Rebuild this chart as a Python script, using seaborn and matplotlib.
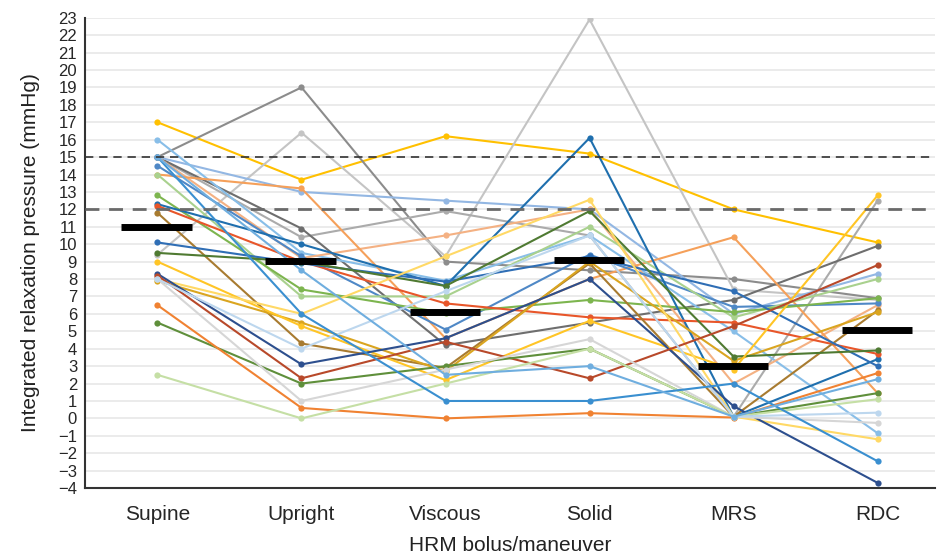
import matplotlib
matplotlib.use("Agg")
import numpy as np
import pandas as pd
import matplotlib.pyplot as plt
import seaborn as sns

maneuvers = ["Supine", "Upright", "Viscous", "Solid", "MRS", "RDC"]

# IRP (mmHg) per patient, one array per bolus/maneuver, same patient order
supine = [17.0, 15.0, 9.4, 15.0, 15.0, 15.0, 16.0, 15.0, 14.0, 14.5, 14.0, 12.8, 12.3, 12.2, 11.8,
          7.9, 10.1, 9.5, 9.0, 8.0, 8.3, 8.2, 5.5, 8.0, 6.5, 2.5, 8.0, 15.0, 15.0]
upright = [13.7, 19.0, 16.4, 10.4, 10.9, 13.0, 9.5, 9.2, 13.2, 9.3, 7.0, 7.4, 10.0, 9.0, 4.3,
           5.5, 8.9, 9.0, 5.3, 6.0, 3.1, 2.3, 2.0, 1.0, 0.6, 0.0, 4.0, 6.0, 8.5]
viscous = [16.2, 9.0, 9.3, 11.9, 4.2, 12.5, 7.9, 10.5, 4.6, 5.1, 7.0, 6.05, 7.6, 6.6, 2.9,
           2.7, 7.85, 7.6, 2.2, 9.3, 4.6, 4.4, 3.0, 2.8, 0.0, 2.0, 7.3, 1.0, 2.5]
solid = [15.2, 8.5, 22.9, 10.5, 5.5, 12.0, 10.5, 12.0, 8.0, 9.4, 11.0, 6.8, 16.1, 5.8, 8.9,
         9.0, 9.3, 11.9, 5.6, 12.55, 8.0, 2.3, 4.0, 4.55, 0.3, 4.0, 10.5, 1.0, 3.0]
mrs = [12.0, 8.0, 7.4, 0.1, 6.8, 6.0, 5.0, 2.0, 10.4, 6.4, 5.8, 6.1, 0.1, 5.5, 0.1,
       3.3, 7.3, 3.55, 2.8, 0.1, 0.7, 5.3, 0.1, 0.1, 0.05, 0.1, 0.1, 2.0, 0.1]
rdc = [10.1, 6.9, 6.8, 12.5, 9.9, 8.3, -0.85, 6.5, 1.45, 6.6, 8.0, 6.9, 3.4, 3.7, 6.2,
       6.1, 3.0, 3.9, 12.8, -1.2, -3.7, 8.8, 1.45, -0.26, 2.6, 1.1, 0.33, -2.46, 2.25]

medians = [11.0, 9.05, 6.1, 9.1, 3.0, 5.1]

colors = ["#FFC000", "#8C8C8C", "#C4C4C4", "#ABABAB", "#6E6E6E", "#93B7E3", "#88BEE8", "#F4B183",
          "#F5A05A", "#4F88C6", "#A9D18E", "#7DB54F", "#1F6FAE", "#E8562A", "#A87B30",
          "#DAA520", "#2F6EB5", "#4F7A32", "#FFC526", "#FFD966", "#2D4F8E", "#B8492A",
          "#5F8F3B", "#D6D6D6", "#F08232", "#C5DFA5", "#BDD7EE", "#3A8FD0", "#6FAEDF"]

# long format for seaborn
rows = []
for i in range(len(supine)):
    for m, col in zip(maneuvers, [supine, upright, viscous, solid, mrs, rdc]):
        rows.append({"patient": i, "maneuver": m, "irp": col[i]})
df = pd.DataFrame(rows)

sns.set_theme(style="white")
plt.rcParams['font.family'] = ['Liberation Sans', 'DejaVu Sans']

fig = plt.figure(figsize=(9.39, 5.54), dpi=100)
ax = fig.add_axes([0.091, 0.119, 0.905, 0.849])

# horizontal grid
for v in range(-4, 24):
    ax.axhline(v, color="#E6E6E6", lw=1.1, zorder=0)

sns.lineplot(data=df, x="maneuver", y="irp", hue="patient", palette=colors,
             marker="o", markersize=4.5, markeredgewidth=0, linewidth=1.5,
             estimator=None, sort=False, legend=False, ax=ax, zorder=2)

# normal limits
ax.axhline(15, color="#333333", lw=1.2, ls=(0, (5, 3.5)), zorder=3)
ax.axhline(12, color="#6A6A6A", lw=2.0, ls=(0, (5, 3.5)), zorder=3)

# median bars
for i, md in enumerate(medians):
    ax.hlines(md, i - 0.25, i + 0.24, color="black", lw=5, zorder=5)

ax.set_xlim(-0.5, 5.4)
ax.set_ylim(-4, 23)
ax.set_yticks(range(-4, 24))
ax.set_yticklabels([str(v).replace("-", "\u2212") for v in range(-4, 24)], fontsize=12)
ax.tick_params(axis="y", length=5, width=1.2, color="#333333", pad=1)
ax.tick_params(axis="x", length=7, width=1.5, color="#333333", labelsize=15, pad=5)
ax.set_xlabel("HRM bolus/maneuver", fontsize=15, labelpad=9, color="#222222")
ax.set_ylabel("Integrated relaxation pressure (mmHg)", fontsize=15, labelpad=13, color="#222222")

sns.despine(ax=ax)
for s in ["left", "bottom"]:
    ax.spines[s].set_color("#333333")
    ax.spines[s].set_linewidth(1.5)

fig.savefig("out.png", dpi=100)
